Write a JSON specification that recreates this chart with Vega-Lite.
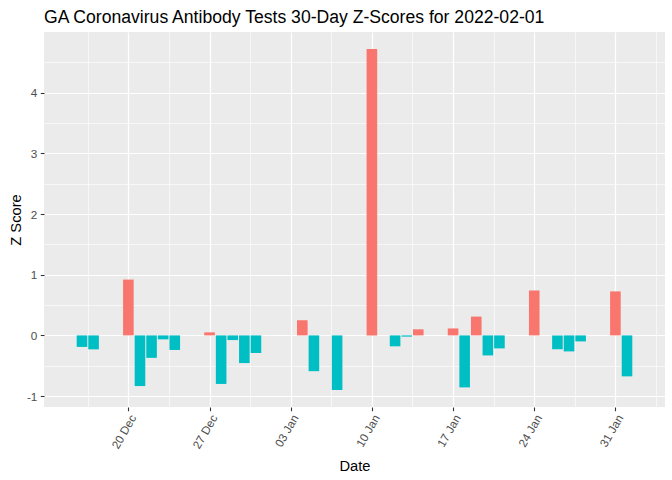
{
  "$schema": "https://vega.github.io/schema/vega-lite/v6.json",
  "width": 621,
  "height": 375,
  "autosize": "none",
  "padding": {"left": 44, "top": 32, "right": 7, "bottom": 73},
  "background": "white",
  "config": {
    "view": {"fill": "#EBEBEB", "stroke": null},
    "font": "Liberation Sans",
    "axis": {"labelFont": "Liberation Sans", "titleFont": "Liberation Sans"}
  },
  "title": {
    "text": "GA Coronavirus Antibody Tests 30-Day Z-Scores for 2022-02-01",
    "anchor": "start",
    "frame": "group",
    "fontSize": 17.6,
    "fontWeight": "normal",
    "color": "black",
    "font": "Liberation Sans",
    "baseline": "alphabetic",
    "offset": 10,
    "dy": 19
  },
  "data": {
    "values": [
      {"date": "2021-12-16", "z": -0.19},
      {"date": "2021-12-17", "z": -0.23},
      {"date": "2021-12-20", "z": 0.92},
      {"date": "2021-12-21", "z": -0.835},
      {"date": "2021-12-22", "z": -0.37},
      {"date": "2021-12-23", "z": -0.065},
      {"date": "2021-12-24", "z": -0.24},
      {"date": "2021-12-27", "z": 0.05},
      {"date": "2021-12-28", "z": -0.8},
      {"date": "2021-12-29", "z": -0.077},
      {"date": "2021-12-30", "z": -0.456},
      {"date": "2021-12-31", "z": -0.29},
      {"date": "2022-01-04", "z": 0.25},
      {"date": "2022-01-05", "z": -0.59},
      {"date": "2022-01-07", "z": -0.9},
      {"date": "2022-01-10", "z": 4.72},
      {"date": "2022-01-12", "z": -0.18},
      {"date": "2022-01-13", "z": -0.02},
      {"date": "2022-01-14", "z": 0.1},
      {"date": "2022-01-17", "z": 0.115},
      {"date": "2022-01-18", "z": -0.857},
      {"date": "2022-01-19", "z": 0.31},
      {"date": "2022-01-20", "z": -0.33},
      {"date": "2022-01-21", "z": -0.214},
      {"date": "2022-01-24", "z": 0.74},
      {"date": "2022-01-26", "z": -0.23},
      {"date": "2022-01-27", "z": -0.264},
      {"date": "2022-01-28", "z": -0.099},
      {"date": "2022-01-31", "z": 0.725},
      {"date": "2022-02-01", "z": -0.675}
    ]
  },
  "layer": [
    {
      "mark": {"type": "bar", "opacity": 0, "width": 10.6},
      "encoding": {
        "x": {
          "field": "date", "type": "temporal",
          "scale": {"type": "utc",
            "domain": [
              {"year": 2021, "month": 12, "date": 13, "hours": 3, "minutes": 43, "utc": true},
              {"year": 2022, "month": 2, "date": 3, "hours": 20, "minutes": 17, "utc": true}
            ]},
          "axis": {
            "orient": "bottom",
            "values": [
              {"year": 2021, "month": 12, "date": 16, "hours": 12, "utc": true},
              {"year": 2021, "month": 12, "date": 23, "hours": 12, "utc": true},
              {"year": 2021, "month": 12, "date": 30, "hours": 12, "utc": true},
              {"year": 2022, "month": 1, "date": 6, "hours": 12, "utc": true},
              {"year": 2022, "month": 1, "date": 13, "hours": 12, "utc": true},
              {"year": 2022, "month": 1, "date": 20, "hours": 12, "utc": true},
              {"year": 2022, "month": 1, "date": 27, "hours": 12, "utc": true},
              {"year": 2022, "month": 2, "date": 3, "hours": 12, "utc": true}
            ],
            "grid": true, "gridColor": "white", "gridWidth": 0.6, "gridOpacity": 1,
            "labels": false, "ticks": false, "domain": false, "title": null
          }
        },
        "y": {
          "field": "z", "type": "quantitative",
          "scale": {"domain": [-1.18, 5.0], "nice": false, "zero": false},
          "axis": {
            "orient": "left",
            "values": [-0.5, 0.5, 1.5, 2.5, 3.5, 4.5],
            "grid": true, "gridColor": "white", "gridWidth": 0.6, "gridOpacity": 1,
            "labels": false, "ticks": false, "domain": false, "title": null
          }
        }
      }
    },
    {
      "mark": {"type": "bar", "width": 10.6},
      "encoding": {
        "x": {
          "field": "date", "type": "temporal",
          "scale": {"type": "utc"},
          "axis": {
            "orient": "bottom",
            "values": [
              {"year": 2021, "month": 12, "date": 20, "utc": true},
              {"year": 2021, "month": 12, "date": 27, "utc": true},
              {"year": 2022, "month": 1, "date": 3, "utc": true},
              {"year": 2022, "month": 1, "date": 10, "utc": true},
              {"year": 2022, "month": 1, "date": 17, "utc": true},
              {"year": 2022, "month": 1, "date": 24, "utc": true},
              {"year": 2022, "month": 1, "date": 31, "utc": true}
            ],
            "labelExpr": "utcFormat(datum.value, '%d %b')",
            "grid": true, "gridColor": "white", "gridWidth": 1.2, "gridOpacity": 1,
            "domain": false,
            "ticks": true, "tickColor": "#333333", "tickSize": 3.7, "tickWidth": 1.1,
            "labelAngle": -60, "labelAlign": "right", "labelBaseline": "top",
            "labelPadding": 2, "labelFontSize": 11.7, "labelColor": "#4D4D4D",
            "labelFont": "Liberation Sans",
            "title": "Date", "titleFontSize": 14.7, "titleFontWeight": "normal", "titleColor": "black",
            "titleX": 310.5, "titleY": 63, "titleBaseline": "alphabetic", "titleAlign": "center"
          }
        },
        "y": {
          "field": "z", "type": "quantitative",
          "axis": {
            "orient": "left",
            "values": [-1, 0, 1, 2, 3, 4],
            "labelExpr": "replace(datum.label, '−', '-')",
            "grid": true, "gridColor": "white", "gridWidth": 1.2, "gridOpacity": 1,
            "domain": false,
            "ticks": true, "tickColor": "#333333", "tickSize": 3.7, "tickWidth": 1.1,
            "labelPadding": 3.5, "labelFontSize": 11.7, "labelColor": "#4D4D4D",
            "labelFont": "Liberation Sans",
            "title": "Z Score", "titleFontSize": 14.7, "titleFontWeight": "normal", "titleColor": "black",
            "titleX": -23.5, "titleY": 187.5, "titleAngle": -90, "titleBaseline": "alphabetic", "titleAlign": "center"
          }
        },
        "color": {
          "condition": {"test": "datum.z > 0", "value": "#F8766D"},
          "value": "#00BFC4"
        }
      }
    }
  ],
  "resolve": {"axis": {"x": "independent", "y": "independent"}}
}
